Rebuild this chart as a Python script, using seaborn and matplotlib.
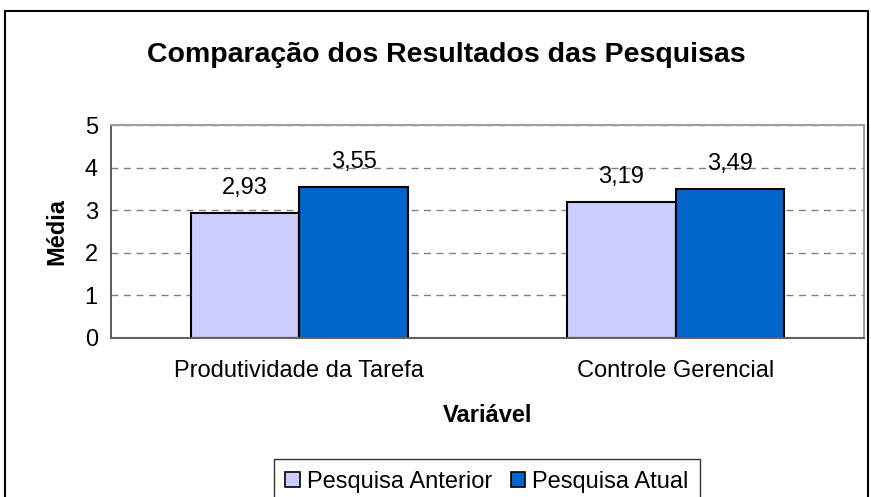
import pandas as pd
import matplotlib.pyplot as plt
import seaborn as sns
from matplotlib.patches import Rectangle
from matplotlib.ticker import FixedLocator

# data
categorias = ['Produtividade da Tarefa', 'Controle Gerencial']
pesquisas = ['Pesquisa Anterior', 'Pesquisa Atual']
anterior = [2.93, 3.19]
atual = [3.55, 3.49]
cores = ['#CCCCFF', '#0066CC']

df = pd.DataFrame({
    'Variável': categorias * 2,
    'Pesquisa': [pesquisas[0]] * 2 + [pesquisas[1]] * 2,
    'Média': anterior + atual,
})

sns.set_style('white')
plt.rcParams['font.family'] = ['Liberation Sans', 'DejaVu Sans']
plt.rcParams.update({'text.color': 'black', 'axes.labelcolor': 'black',
                     'xtick.color': 'black', 'ytick.color': 'black'})

fig = plt.figure(figsize=(8.71, 4.97), dpi=100)
ax = fig.add_axes([111 / 871, 1 - 338 / 497, (864 - 111) / 871, (338 - 125) / 497])

sns.barplot(data=df, x='Variável', y='Média', hue='Pesquisa', order=categorias,
            hue_order=pesquisas, palette=cores, width=0.577, edgecolor='black',
            linewidth=1.5, saturation=1, ax=ax, legend=False)

for cont in ax.containers:
    ax.bar_label(cont, labels=[f'{v:.2f}'.replace('.', ',') for v in cont.datavalues],
                 padding=10, fontsize=17)

ax.set_xlim(-0.5, 1.5)
ax.set_ylim(0, 5)
ax.set_yticks(range(6))
ax.tick_params(axis='y', labelsize=17, length=7, direction='inout', color='#404040', pad=6)
ax.tick_params(axis='x', which='major', labelsize=17, length=0, pad=16)
ax.xaxis.set_minor_locator(FixedLocator([-0.5, 0.5, 1.5]))
ax.tick_params(axis='x', which='minor', length=6, direction='out', color='#404040')
ax.yaxis.grid(True, linestyle=(0, (5, 4)), color='#808080', linewidth=1)
ax.set_axisbelow(True)

for side in ['top', 'right']:
    ax.spines[side].set_color('#A0A0A0')
    ax.spines[side].set_linewidth(1.5)
ax.spines['left'].set_color('#404040')
ax.spines['bottom'].set_color('#606060')
ax.spines['left'].set_linewidth(1.2)
ax.spines['bottom'].set_linewidth(1.5)

ax.set_xlabel('Variável', fontsize=17, fontweight='bold', labelpad=16)
ax.set_ylabel('Média', fontsize=17, fontweight='bold', labelpad=12)

fig.text(446 / 871, 1 - 55 / 497, 'Comparação dos Resultados das Pesquisas',
         ha='center', va='center', fontsize=20.5, fontweight='bold')

handles = [Rectangle((0, 0), 1, 1, facecolor=c, edgecolor='black', linewidth=1.2) for c in cores]
leg = fig.legend(handles, pesquisas, loc='upper center', bbox_to_anchor=(487 / 871, 1 - 459 / 497),
                 ncol=2, fontsize=17, frameon=True, fancybox=False, handlelength=0.6,
                 handleheight=0.6, handletextpad=0.3, columnspacing=0.8, borderpad=0.5,
                 borderaxespad=0)
leg.get_frame().set_edgecolor('black')
leg.get_frame().set_linewidth(1)

fig.add_artist(Rectangle((5 / 871, -0.1), (868 - 5) / 871, (497 - 11) / 497 + 0.1,
                         transform=fig.transFigure, fill=False, edgecolor='black', linewidth=1.5))

plt.savefig('out.png', dpi=100)
plt.close()
